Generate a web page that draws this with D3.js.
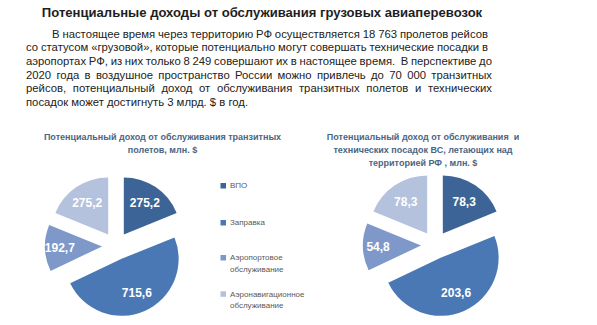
<!DOCTYPE html>
<html><head><meta charset="utf-8">
<script src="https://cdn.jsdelivr.net/npm/d3@7"></script>
<style>body{margin:0;background:#fff}svg{display:block}</style>
</head><body>
<svg id="c" width="597" height="325"></svg>
<script>
const categories = ["ВПО", "Заправка", "Аэропортовое обслуживание", "Аэронавигационное обслуживание"];
const legendLines = [["ВПО"], ["Заправка"], ["Аэропортовое", "обслуживание"], ["Аэронавигационное", "обслуживание"]];
const transitValues = [275.2, 715.6, 192.7, 275.2];
const landingValues = [78.3, 203.6, 54.8, 78.3];
const labelsTransit = ["275,2", "715,6", "192,7", "275,2"];
const labelsLanding = ["78,3", "203,6", "54,8", "78,3"];
const mainTitle = "Потенциальные доходы от обслуживания грузовых авиаперевозок";
const paragraph = [
  "В настоящее время через территорию РФ осуществляется 18 763 пролетов рейсов",
  "со статусом «грузовой», которые потенциально могут совершать технические посадки в",
  "аэропортах РФ, из них только 8 249 совершают их в настоящее время.  В перспективе до",
  "2020 года в воздушное пространство России можно привлечь до 70 000 транзитных",
  "рейсов, потенциальный доход от обслуживания транзитных полетов и технических",
  "посадок может достигнуть 3 млрд. $ в год."
];
const titleTransit = ["Потенциальный доход от обслуживания транзитных", "полетов, млн. $"];
const titleLanding = ["Потенциальный доход от обслуживания  и", "технических посадок ВС, летающих над", "территорией РФ , млн. $"];

const colors = ["#3d6496", "#4a78b4", "#7e99c9", "#b5c2de"];
const sans = "'Liberation Sans', Arial, sans-serif";

function draw() {
  const svg = d3.select("#c");
  svg.selectAll("*").remove();

  const title = svg.append("text").attr("x", 262).attr("y", 17).attr("text-anchor", "middle")
    .attr("font-family", sans).attr("font-weight", "bold").attr("font-size", 14)
    .attr("fill", "#1e1e1e").text(mainTitle);
  const tw = title.node().getComputedTextLength();
  if (tw > 0) title.attr("font-size", Math.min(15, 14 * 441 / tw));

  // justified paragraph
  const lineY = [37.5, 51.2, 64.9, 78.6, 92.3, 106];
  paragraph.forEach((ln, i) => {
    const x0 = i === 0 ? 52 : 26;
    const x1 = i < 2 ? 488 : 492;
    const t = svg.append("text").attr("x", x0).attr("y", lineY[i])
      .attr("font-family", sans).attr("font-size", 11.3).attr("fill", "#222")
      .style("white-space", "pre").text(ln);
    if (i < paragraph.length - 1) {
      const w = t.node().getComputedTextLength();
      const spaces = (ln.match(/ /g) || []).length;
      t.attr("word-spacing", (x1 - x0 - w) / spaces);
    }
  });

  function drawPie(values, labels, cx, cy, r, off, titleLines, tx, ty) {
    const pie = d3.pie().sort(null).startAngle(0).endAngle(2 * Math.PI)(values);
    const arc = d3.arc().innerRadius(0).outerRadius(r);
    const g = svg.append("g").attr("transform", `translate(${cx},${cy})`);
    pie.forEach((d, i) => {
      const mid = (d.startAngle + d.endAngle) / 2;
      const dx = off * Math.sin(mid), dy = -off * Math.cos(mid);
      const s = g.append("g").attr("transform", `translate(${dx},${dy})`);
      s.append("path").attr("d", arc(d)).attr("fill", colors[i]);
      const lr = r * (d.endAngle - d.startAngle < 1 ? 0.74 : 0.66);
      s.append("text").attr("x", lr * Math.sin(mid)).attr("y", -lr * Math.cos(mid))
        .attr("text-anchor", "middle").attr("dominant-baseline", "central")
        .attr("font-family", sans).attr("font-weight", "bold").attr("font-size", 12)
        .attr("fill", "#fff").text(labels[i]);
    });
    titleLines.forEach((t, i) => {
      svg.append("text").attr("x", tx).attr("y", ty + i * 12.8).attr("text-anchor", "middle")
        .attr("font-family", sans).attr("font-weight", "bold").attr("font-size", 9)
        .attr("fill", "#4a6584").style("white-space", "pre").text(t);
    });
  }

  drawPie(transitValues, labelsTransit, 116, 246, 57, 14, titleTransit, 162.5, 140);
  drawPie(landingValues, labelsLanding, 435, 245, 58, 14, titleLanding, 423, 140);

  // legend
  const legY = [185.7, 222.7, 257.7, 294];
  legendLines.forEach((lines, i) => {
    svg.append("rect").attr("x", 220.5).attr("y", legY[i] - 2.7).attr("width", 5.5).attr("height", 5.5)
      .attr("fill", colors[i]);
    lines.forEach((l, j) => {
      svg.append("text").attr("x", 230).attr("y", legY[i] + j * 11.6).attr("dominant-baseline", "central")
        .attr("font-family", sans).attr("font-size", 8).attr("fill", "#595959").text(l);
    });
  });
}

draw();
if (document.fonts && document.fonts.load) {
  Promise.all([
    document.fonts.load("11px 'Liberation Sans'"),
    document.fonts.load("bold 11px 'Liberation Sans'")
  ]).then(() => document.fonts.ready).then(draw).catch(draw);
}
</script>
</body></html>
